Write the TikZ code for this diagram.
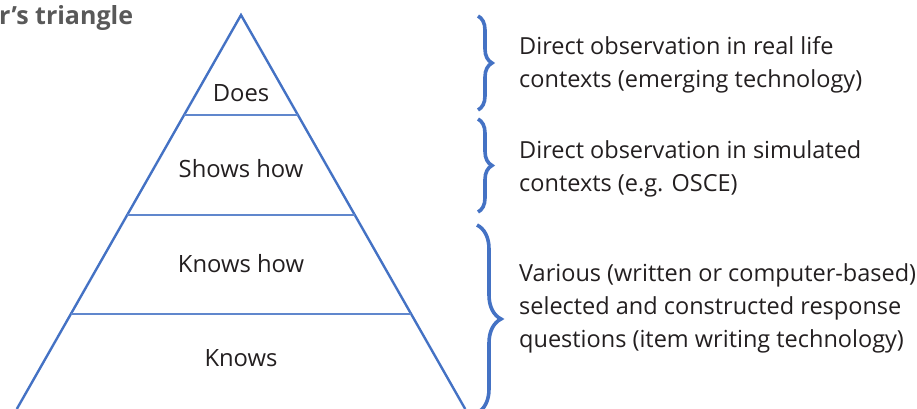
\documentclass[tikz,border=0pt]{standalone}
\usepackage{fontspec}
\setmainfont{Open Sans}
\usetikzlibrary{calc,decorations.pathreplacing}
\definecolor{tri}{RGB}{68,114,196}
\definecolor{txt}{RGB}{35,31,32}
\definecolor{ttl}{RGB}{89,89,89}
\begin{document}
\begin{tikzpicture}[x=1pt,y=-1pt,
  edge/.style={draw=tri,line width=2.4pt,line join=miter},
  tier/.style={draw=tri!85,line width=1.4pt},
  lbl/.style={font=\fontsize{23.8}{28}\selectfont,text=txt,inner sep=0pt,anchor=base},
  desc/.style={font=\fontsize{23.5}{33}\selectfont,text=txt,inner sep=0pt,align=left,anchor=base west},
  brc/.style={draw=tri,line width=3.6pt,decorate,decoration={brace,amplitude=#1}},
  brc/.default=14pt]
\useasboundingbox (0,0) rectangle (917,409);
% title
\node[font=\fontsize{25}{30}\selectfont\bfseries,text=ttl,anchor=base west,inner sep=0pt] (title) at (-1,25) {r’s triangle};
% triangle
\coordinate (apex) at (241,15);
\coordinate (bl) at (16.8,409);
\coordinate (br) at (465.2,409);
\draw[edge] (bl) -- (apex) -- (br);
\draw[tier] ($(apex)!0.2538!(bl)$) -- ($(apex)!0.2538!(br)$);
\draw[tier] ($(apex)!0.5076!(bl)$) -- ($(apex)!0.5076!(br)$);
\draw[tier] ($(apex)!0.7589!(bl)$) -- ($(apex)!0.7589!(br)$);
% tier labels
\node[lbl] (does) at (241,102) {Does};
\node[lbl] (shows) at (241,177) {Shows how};
\node[lbl] (knowshow) at (241,272) {Knows how};
\node[lbl] (knows) at (241,366) {Knows};
% braces
\coordinate (b1t) at (478,16);  \coordinate (b1b) at (478,110);
\coordinate (b2t) at (478,119); \coordinate (b2b) at (478,212);
\coordinate (b3t) at (477,225); \coordinate (b3b) at (477,413);
\draw[brc] (b1t) -- (b1b);
\draw[brc] (b2t) -- (b2b);
\draw[brc=24pt] (b3t) -- (b3b);
% descriptions (anchored at the baseline of the last line)
\node[desc] (d1) at (519,88) {Direct observation in real life\\contexts (emerging technology)};
\node[desc] (d2) at (519,191) {Direct observation in simulated\\contexts (e.g. OSCE)};
\node[desc] (d3) at (519,347) {Various (written or computer-based)\\selected and constructed response\\questions (item writing technology)};
\end{tikzpicture}
\end{document}
